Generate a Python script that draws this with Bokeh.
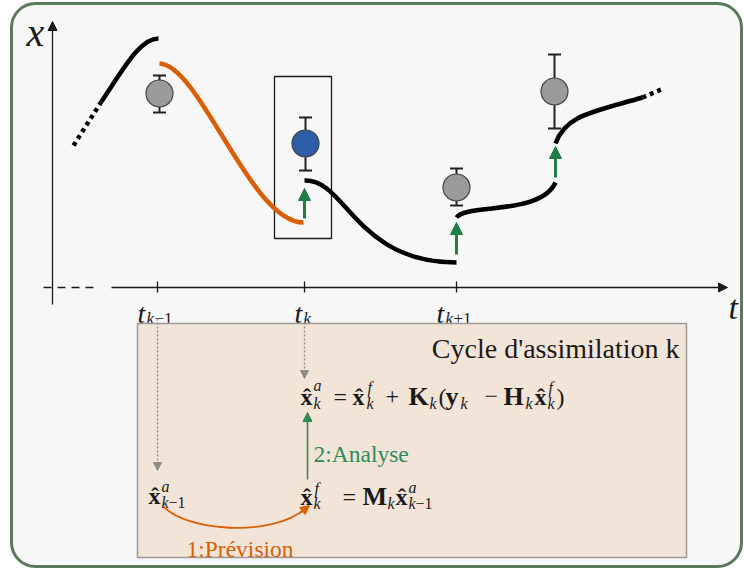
from bokeh.plotting import figure
from bokeh.models import Range1d, Arrow, NormalHead
from bokeh.embed import file_html
from bokeh.resources import INLINE
from bokeh.core.properties import value

# ---------------- data (diagram coordinates: x = time position, y = state, screen-oriented) -------------
tick_t = [157, 304, 456]
tick_sub = ["k", "k", "k"]
tick_suffix = ["\u22121", "", "+1"]

obs_t = [159, 305, 456, 554]
obs_x = [93, 143, 187, 91]
obs_hi = [75, 117, 168, 54]
obs_lo = [112, 170, 205, 128]
obs_fill = ["#9b9b9b", "#2c5ea8", "#9b9b9b", "#9b9b9b"]

# trajectory pieces as cubic Bezier curves: start, control 0, control 1, end
traj_x0 = [101, 304, 456, 555]
traj_y0 = [101, 180, 217, 143]
traj_cx0 = [125, 345, 465, 565]
traj_cy0 = [65, 178, 203, 115]
traj_cx1 = [140, 355, 540, 590]
traj_cy1 = [38, 262, 215, 112]
traj_x1 = [158, 456, 555, 642]
traj_y1 = [38, 262, 182, 97]

fc_x0, fc_y0 = [159], [63]
fc_cx0, fc_cy0 = [200], [65]
fc_cx1, fc_cy1 = [250], [222]
fc_x1, fc_y1 = [303], [222]

dot_x0 = [73, 642]
dot_y0 = [145, 97]
dot_x1 = [101, 663]
dot_y1 = [101, 88]

corr_t = [304, 456, 555]
corr_from = [218, 254, 177]
corr_to = [188, 222, 146]

ORANGE = "#d95f02"
GREEN = "#1f7d47"
GREEN_TXT = "#2e8b57"
INK = "#1a1a1a"
SERIF = "Liberation Serif"

p = figure(width=744, height=569, x_range=Range1d(0, 744), y_range=Range1d(569, 0),
           output_backend="svg", toolbar_location=None, x_axis_type=None, y_axis_type=None,
           min_border=0, outline_line_color=None, background_fill_color="white",
           border_fill_color="white")
p.xgrid.visible = False
p.ygrid.visible = False

# rounded outer frame
p.quad(left=[11], right=[741], top=[3], bottom=[566], fill_color="#f7f7f7",
       line_color="#5b7a5b", line_width=3, border_radius=24)

# axes
p.segment(x0=[43], y0=[287], x1=[99], y1=[287], line_color=INK, line_width=1.3, line_dash="8 6")
p.add_layout(Arrow(end=NormalHead(size=9, fill_color=INK, line_color=INK), x_start=111, y_start=287,
                   x_end=727, y_end=287, line_color=INK, line_width=1.3))
p.add_layout(Arrow(end=NormalHead(size=9, fill_color=INK, line_color=INK), x_start=52, y_start=304,
                   x_end=52, y_end=21, line_color=INK, line_width=1.3))
p.segment(x0=tick_t, y0=[281] * 3, x1=tick_t, y1=[292] * 3, line_color=INK, line_width=1.3)


def put(x, y, text, size, style="normal", color=INK, align="left", font=SERIF):
    p.text(x=[x], y=[y], text=[text], text_font=value(font), text_font_size=f"{size}px",
           text_font_style=style, text_color=color, text_align=align, text_baseline="alphabetic")


put(26, 32, "x", 40, "italic")
put(728, 307, "t", 34, "italic")
for t, nm, suf in zip(tick_t, tick_sub, tick_suffix):
    off = 0 if suf else 10
    put(t - 20 + off, 313, "t", 28, "italic")
    put(t - 11 + off, 318, nm, 17, "italic")
    if suf:
        put(t - 3, 318, suf, 17)

# analysis box
p.quad(left=[274], right=[331], top=[76], bottom=[238], fill_color=None, line_color=INK, line_width=1.3)

# trajectories
p.bezier(x0=traj_x0, y0=traj_y0, x1=traj_x1, y1=traj_y1, cx0=traj_cx0, cy0=traj_cy0,
         cx1=traj_cx1, cy1=traj_cy1, line_color="black", line_width=4.5)
p.bezier(x0=fc_x0, y0=fc_y0, x1=fc_x1, y1=fc_y1, cx0=fc_cx0, cy0=fc_cy0,
         cx1=fc_cx1, cy1=fc_cy1, line_color=ORANGE, line_width=4.5)
p.segment(x0=dot_x0, y0=dot_y0, x1=dot_x1, y1=dot_y1, line_color="black", line_width=4.5, line_dash="4 4")

# corrections
for t, a, b in zip(corr_t, corr_from, corr_to):
    p.add_layout(Arrow(end=NormalHead(size=12, fill_color=GREEN, line_color=GREEN), x_start=t, y_start=a,
                       x_end=t, y_end=b, line_color=GREEN, line_width=3))

# observations with error bars
p.segment(x0=obs_t, y0=obs_hi, x1=obs_t, y1=obs_lo, line_color="#222222", line_width=2)
p.scatter(x=obs_t + obs_t, y=obs_hi + obs_lo, marker="dash", size=13, line_color="#222222", line_width=2)
p.scatter(x=obs_t, y=obs_x, size=27, fill_color=obs_fill, line_color="#444444", line_width=1.2)

# assimilation cycle box
p.quad(left=[137], right=[686], top=[323], bottom=[557], fill_color="#f3e4d8",
       line_color="#9a9a9a", line_width=1.5)
put(679, 348, "Cycle d'assimilation k", 28, align="right")

for t, tip in zip([157, 304], [470, 378]):
    p.add_layout(Arrow(end=NormalHead(size=8, fill_color="#8c8c8c", line_color="#8c8c8c"), x_start=t,
                       y_start=318, x_end=t, y_end=tip, line_color="#8c8c8c", line_width=1.3,
                       line_dash="2 2"))

p.add_layout(Arrow(end=NormalHead(size=9, fill_color=GREEN_TXT, line_color=GREEN_TXT), x_start=307,
                   y_start=479, x_end=307, y_end=412, line_color=GREEN_TXT, line_width=1.6))
put(313, 453, "2:Analyse", 23.5, color=GREEN_TXT)

p.bezier(x0=[163], y0=[506], x1=[305], y1=[508], cx0=[185], cy0=[530], cx1=[270], cy1=[538],
         line_color=ORANGE, line_width=1.8)
p.add_layout(Arrow(end=NormalHead(size=9, fill_color=ORANGE, line_color=ORANGE), x_start=300,
                   y_start=512, x_end=309, y_end=505, line_color=ORANGE, line_width=1.8))
put(186, 548, "1:Pr\u00e9vision", 23.5, color=ORANGE)

XH = "x\u0302"
M, C, S = 24, 26, 16
# equation 1
b1 = 396
for x, y, txt, sz, st in [
    (300, b1, XH, M, "bold"), (313, 385, "a", S, "italic"), (313, 403, "k", S, "italic"),
    (333, b1, "=", M, "normal"),
    (352, b1, XH, M, "bold"), (367, 387, "f", S, "italic"), (366, 403, "k", S, "italic"),
    (385, b1, "+", M, "normal"),
    (408, b1, "K", C, "bold"), (429, 403, "k", S, "italic"),
    (438, b1, "(", M, "normal"), (445, b1, "y", C, "bold"), (460, 403, "k", S, "italic"),
    (484, b1, "\u2212", M, "normal"),
    (503, b1, "H", C, "bold"), (525, 403, "k", S, "italic"),
    (534, b1, XH, M, "bold"), (548, 387, "f", S, "italic"), (547, 403, "k", S, "italic"),
    (556, b1, ")", M, "normal"),
]:
    put(x, y, txt, sz, st)

# equation 2
b2 = 496
for x, y, txt, sz, st in [
    (300, b2, XH, M, "bold"), (314, 488, "f", S, "italic"), (313, 503, "k", S, "italic"),
    (342, b2, "=", M, "normal"),
    (362, b2, "M", C, "bold"), (387, 503, "k", S, "italic"),
    (395, b2, XH, M, "bold"), (408, 487, "a", S, "italic"), (408, 503, "k", S, "italic"),
    (415, 503, "\u22121", S, "normal"),
]:
    put(x, y, txt, sz, st)

# previous analysis
b3 = 495
for x, y, txt, sz, st in [
    (148, b3, XH, M, "bold"), (161, 486, "a", S, "italic"), (161, 502, "k", S, "italic"),
    (168, 502, "\u22121", S, "normal"),
]:
    put(x, y, txt, sz, st)

open("out.html", "w").write(file_html(p, INLINE))
